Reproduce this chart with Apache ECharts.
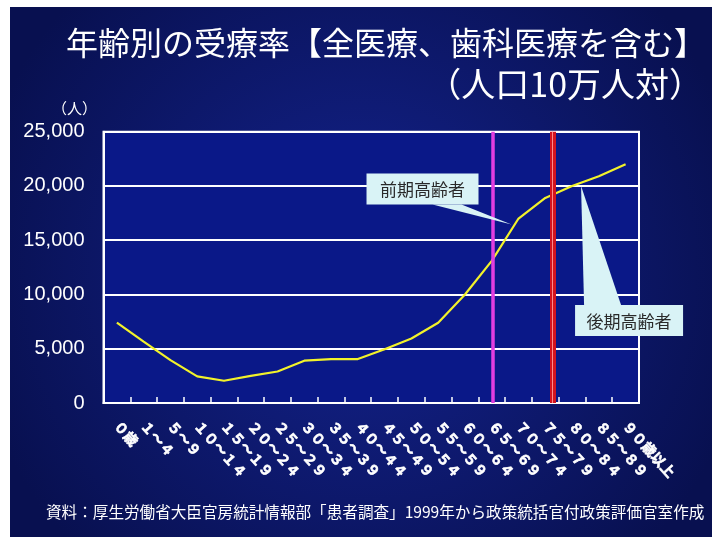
<!DOCTYPE html>
<html>
<head>
<meta charset="utf-8">
<script src="https://cdn.jsdelivr.net/npm/echarts@6/dist/echarts.min.js"></script>
<style>
html,body{margin:0;padding:0;background:#fff;}
#c{width:712px;height:537px;}
</style>
</head>
<body>
<div id="c"></div>
<script>
// ---- data ----
const ageCategories = ['０歳','１～４','５～９','１０～１４','１５～１９','２０～２４','２５～２９','３０～３４','３５～３９','４０～４４','４５～４９','５０～５４','５５～５９','６０～６４','６５～６９','７０～７４','７５～７９','８０～８４','８５～８９','９０歳以上'];
const ageValues = [7400, 5650, 3950, 2450, 2050, 2500, 2900, 3900, 4050, 4050, 4950, 5950, 7400, 10000, 13100, 17000, 18900, 20000, 20900, 22000];
const yTicks = [0, 5000, 10000, 15000, 20000, 25000];
const divisionPositions = [14.53, 16.77];   // in category-index units from the left edge
const calloutIndex = [15, 17];
const calloutText = ['前期高齢者', '後期高齢者'];
const titleMain = '年齢別の受療率【全医療、歯科医療を含む】';
const titleSub = '（人口10万人対）';
const unitText = '（人）';
const sourceText = '資料：厚生労働省大臣官房統計情報部「患者調査」1999年から政策統括官付政策評価官室作成';

// ---- layout / style (not data) ----
const calloutLayout = [
  {tip: [-7, 6], box: [-145, -51, 112, 31], base: [[-79, -20], [-50, -20]]},
  {tip: [9, 0], box: [-6, 119, 108, 31], base: [[3, 119], [40, 119]]}
];
const calloutFill = '#d9f3f6';

const chart = echarts.init(document.getElementById('c'), null, {renderer: 'canvas'});

const option = {
  backgroundColor: '#ffffff',
  animation: false,
  graphic: [{
    type: 'rect', z: -10, silent: true,
    shape: {x: 10, y: 7, width: 702, height: 530},
    style: {
      fill: {
        type: 'radial', x: 0.5, y: 0.5, r: 0.75,
        colorStops: [{offset: 0, color: '#14238f'}, {offset: 1, color: '#081050'}]
      }
    }
  }],
  title: [
    {text: titleMain, left: 61, top: 22,
     textStyle: {color: '#fff', fontSize: 32, fontWeight: 'normal', fontFamily: 'Noto Sans CJK JP'}},
    {text: titleSub, right: 4, top: 62,
     textStyle: {color: '#fff', fontSize: 34, fontWeight: 'normal', fontFamily: 'Noto Sans CJK JP'}},
    {text: unitText, left: 47, top: 96,
     textStyle: {color: '#fff', fontSize: 15, fontWeight: 'normal', fontFamily: 'Noto Sans CJK JP'}},
    {text: sourceText, left: 41, top: 499,
     textStyle: {color: '#fff', fontSize: 15.6, fontWeight: 'normal', fontFamily: 'Noto Sans CJK JP'}}
  ],
  grid: {
    left: 103.5, right: 73, top: 131.7, bottom: 134,
    show: true, backgroundColor: '#0a1888', borderColor: '#ffffff', borderWidth: 2
  },
  xAxis: [{
    type: 'category',
    data: ageCategories,
    boundaryGap: true,
    axisLine: {show: true, lineStyle: {color: '#fff', width: 2}},
    axisTick: {show: true, inside: true, length: 6, lineStyle: {color: '#fff', width: 1.5}},
    axisLabel: {
      rotate: -48, margin: 20, interval: 0,
      color: '#fff', fontSize: 14, fontWeight: 'bold', fontFamily: 'Noto Sans CJK JP',
      textBorderColor: '#fff', textBorderWidth: 0.6
    },
    splitLine: {show: false}
  }, {
    type: 'value', min: 0, max: ageCategories.length, show: false
  }],
  yAxis: {
    type: 'value', min: yTicks[0], max: yTicks[yTicks.length - 1], interval: yTicks[1] - yTicks[0],
    axisLine: {show: true, lineStyle: {color: '#fff', width: 2}},
    axisTick: {show: false},
    axisLabel: {
      margin: 19, color: '#fff', fontSize: 20,
      fontFamily: 'Liberation Sans',
      formatter: v => v.toLocaleString('en-US')
    },
    splitLine: {show: true, lineStyle: {color: '#fff', width: 2}}
  },
  series: [
    {
      type: 'line', xAxisIndex: 1, yAxisIndex: 0, data: [], z: 3,
      markLine: {
        silent: true, symbol: 'none', label: {show: false},
        data: [
          {xAxis: divisionPositions[0], lineStyle: {color: '#e23ee0', width: 3.5, type: 'solid'}},
          {xAxis: divisionPositions[1], lineStyle: {color: '#d4141e', width: 6, type: 'solid'}},
          {xAxis: divisionPositions[1], lineStyle: {color: '#ff8a8a', width: 1, type: 'solid'}}
        ]
      }
    },
    {
      type: 'line', xAxisIndex: 0, yAxisIndex: 0, z: 4,
      data: ageValues,
      symbol: 'none', smooth: false,
      lineStyle: {color: '#f2f22a', width: 2.2}
    },
    {
      type: 'custom', xAxisIndex: 0, yAxisIndex: 0, z: 6, clip: false, silent: true,
      data: calloutIndex.map((k, j) => [k, ageValues[k], j]),
      renderItem: function (params, api) {
        const j = api.value(2);
        const L = calloutLayout[j];
        const p = api.coord([api.value(0), api.value(1)]);
        const tx = p[0] + L.tip[0], ty = p[1] + L.tip[1];
        const bx = tx + L.box[0], by = ty + L.box[1];
        return {
          type: 'group',
          children: [
            {type: 'polygon',
             shape: {points: [[tx + L.base[0][0], ty + L.base[0][1]], [tx + L.base[1][0], ty + L.base[1][1]], [tx, ty]]},
             style: {fill: calloutFill}},
            {type: 'rect', shape: {x: bx, y: by, width: L.box[2], height: L.box[3]},
             style: {fill: calloutFill}},
            {type: 'text',
             style: {text: calloutText[j], x: bx + L.box[2] / 2, y: by + L.box[3] / 2 + 1,
                     textAlign: 'center', textVerticalAlign: 'middle',
                     fill: '#2a2a2a', font: '17px "Noto Sans CJK JP"'}}
          ]
        };
      }
    }
  ]
};
chart.setOption(option);
</script>
</body>
</html>
